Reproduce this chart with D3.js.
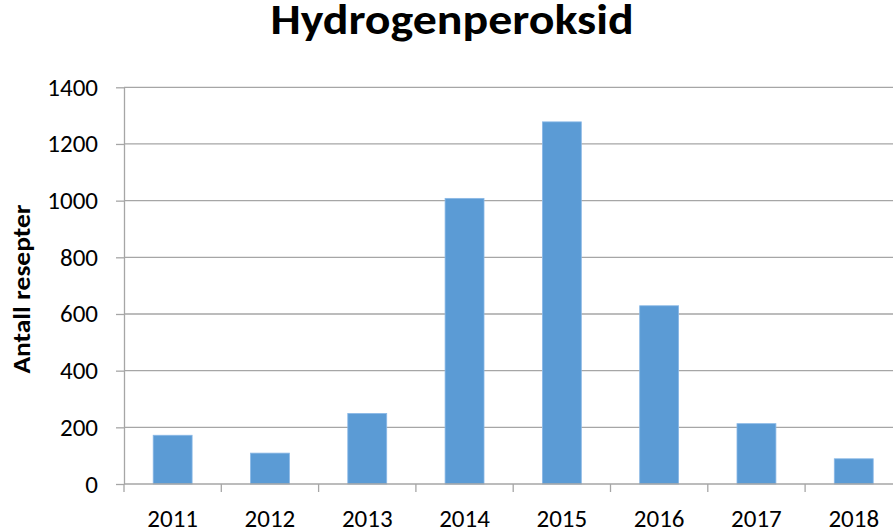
<!DOCTYPE html>
<html>
<head>
<meta charset="utf-8">
<style>
  body { margin: 0; background: #fff; }
  svg text { font-family: Carlito, Calibri, Lato, "Open Sans", sans-serif; fill: #000; }
  .grid line { stroke: #a6a6a6; stroke-width: 1.3px; }
  .axis path, .axis line { stroke: #a6a6a6; stroke-width: 1.3px; }
  .bar { fill: #5b9bd5; stroke: #8ab8e6; stroke-width: 0.8px; }
</style>
</head>
<body>
<div id="chart"></div>
<script src="https://cdn.jsdelivr.net/npm/d3@7"></script>
<script>
var years = ["2011", "2012", "2013", "2014", "2015", "2016", "2017", "2018"];
var prescriptions = [172, 109, 249, 1008, 1278, 629, 213, 89];
var yTicks = [0, 200, 400, 600, 800, 1000, 1200, 1400];

var width = 893, height = 532;
var margin = { top: 87.3, right: -9.4, bottom: 48, left: 124 };

var svg = d3.select("#chart").append("svg")
    .attr("width", width)
    .attr("height", height);

var x = d3.scaleBand()
    .domain(years)
    .range([margin.left, width - margin.right])
    .paddingInner(0.6)
    .paddingOuter(0.3);

var y = d3.scaleLinear()
    .domain([0, 1400])
    .range([height - margin.bottom, margin.top]);

// gridlines
svg.append("g")
    .attr("class", "grid")
    .selectAll("line")
    .data(yTicks.slice(1))
    .enter().append("line")
    .attr("x1", margin.left)
    .attr("x2", width)
    .attr("y1", function (d) { return y(d); })
    .attr("y2", function (d) { return y(d); });

// bars
svg.append("g")
    .selectAll("rect")
    .data(years)
    .enter().append("rect")
    .attr("class", "bar")
    .attr("x", function (d) { return x(d); })
    .attr("width", x.bandwidth())
    .attr("y", function (d, i) { return y(prescriptions[i]); })
    .attr("height", function (d, i) { return y(0) - y(prescriptions[i]); });

// y axis
var yAxis = svg.append("g")
    .attr("class", "axis")
    .attr("transform", "translate(" + margin.left + ",0)")
    .call(d3.axisLeft(y).tickValues(yTicks).tickFormat(d3.format("d"))
        .tickSize(8).tickSizeOuter(0).tickPadding(18));
yAxis.selectAll("text").style("font-size", "25px");

// x axis: ticks at category boundaries
var step = x.step();
var boundaries = d3.range(years.length + 1).map(function (i) { return margin.left + i * step; });
var xAxis = svg.append("g").attr("class", "axis");
xAxis.append("line")
    .attr("x1", margin.left).attr("x2", width)
    .attr("y1", y(0)).attr("y2", y(0));
xAxis.selectAll(".tick")
    .data(boundaries)
    .enter().append("line")
    .attr("class", "tick")
    .attr("x1", function (d) { return d; })
    .attr("x2", function (d) { return d; })
    .attr("y1", y(0))
    .attr("y2", y(0) + 8);
xAxis.selectAll("text")
    .data(years)
    .enter().append("text")
    .attr("x", function (d) { return x(d) + x.bandwidth() / 2; })
    .attr("y", 527)
    .attr("text-anchor", "middle")
    .style("font-size", "25px")
    .text(function (d) { return d; });

// y axis title
svg.append("text")
    .attr("transform", "translate(30,289) rotate(-90) scale(1.1,1)")
    .attr("text-anchor", "middle")
    .style("font-size", "25px")
    .style("font-weight", "bold")
    .text("Antall resepter");

// title
svg.append("text")
    .attr("transform", "translate(452,34) scale(1.14,1)")
    .attr("text-anchor", "middle")
    .style("font-size", "42px")
    .style("font-weight", "bold")
    .text("Hydrogenperoksid");
</script>
</body>
</html>
